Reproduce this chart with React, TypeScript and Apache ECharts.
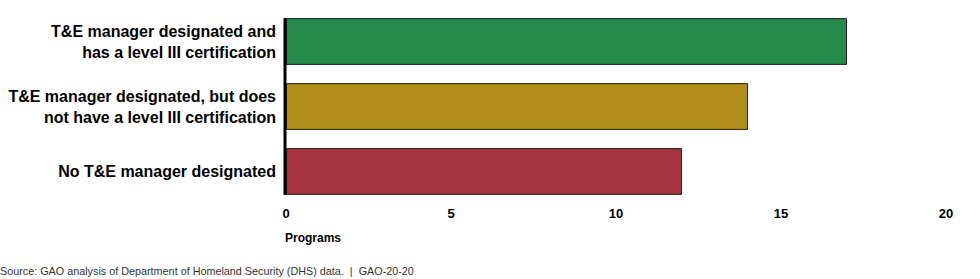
import React, { useEffect, useRef } from "react";
import * as echarts from "echarts";

const categories = [
  "T&E manager designated and\nhas a level III certification",
  "T&E manager designated, but does\nnot have a level III certification",
  "No T&E manager designated",
];
const values = [17, 14, 12];
const barColors = ["#268B4A", "#B18C1A", "#A5343F"];
const xTicks = [0, 5, 10, 15, 20];
const xAxisTitle = "Programs";
const sourceText = "Source: GAO analysis of Department of Homeland Security (DHS) data.  |  GAO-20-20";

const FONT = "'Liberation Sans', Arial, Helvetica, sans-serif";
const NARROW = "'Liberation Sans Narrow', 'Liberation Sans', Arial, sans-serif";
const GAP = 0.28;

export default function App() {
  const ref = useRef<HTMLDivElement>(null);
  useEffect(() => {
    if (!ref.current) return;
    const chart = echarts.init(ref.current, null, { renderer: "svg" });
    chart.setOption({
      animation: false,
      backgroundColor: "#ffffff",
      grid: { left: 286, right: 34, top: 9, bottom: 75, containLabel: false },
      xAxis: {
        type: "value",
        min: xTicks[0],
        max: xTicks[xTicks.length - 1],
        interval: 5,
        axisLine: { show: false },
        axisTick: { show: false },
        splitLine: { show: false },
        axisLabel: {
          margin: 3,
          color: "#000",
          fontFamily: NARROW,
          fontWeight: "bold",
          fontSize: 13,
        },
      },
      yAxis: {
        type: "category",
        inverse: true,
        data: categories,
        axisLine: { show: false },
        axisTick: { show: false },
        axisLabel: {
          margin: 10,
          color: "#000",
          fontFamily: FONT,
          fontWeight: "bold",
          fontSize: 16,
          lineHeight: 21,
          align: "right",
        },
      },
      series: [
        {
          type: "bar",
          barCategoryGap: GAP * 100 + "%",
          data: values.map((v, i) => ({
            value: v,
            itemStyle: { color: barColors[i], borderColor: "#222", borderWidth: 1 },
          })),
        },
      ],
    });
    const x0 = chart.convertToPixel({ xAxisIndex: 0 }, 0) as number;
    const c0 = chart.convertToPixel({ yAxisIndex: 0 }, categories[0]) as number;
    const c1 = chart.convertToPixel({ yAxisIndex: 0 }, categories[1]) as number;
    const cN = chart.convertToPixel({ yAxisIndex: 0 }, categories[categories.length - 1]) as number;
    const band = Math.abs(c1 - c0);
    const half = (band * (1 - GAP)) / 2;
    chart.setOption({
      graphic: [
        {
          type: "line",
          shape: { x1: x0 - 1, y1: c0 - half, x2: x0 - 1, y2: cN + half },
          style: { stroke: "#000", lineWidth: 3 },
          z: 10,
        },
        {
          type: "text",
          left: x0 - 1,
          top: 232,
          style: { text: xAxisTitle, font: `bold 12px ${FONT}`, fill: "#000" },
        },
        {
          type: "text",
          left: 0,
          top: 265,
          style: { text: sourceText, font: `10.8px ${FONT}`, fill: "#333" },
        },
      ],
    });
    return () => chart.dispose();
  }, []);
  return (
    <div
      ref={ref}
      style={{ position: "fixed", left: 0, top: 0, width: 980, height: 279, background: "#fff" }}
    />
  );
}
